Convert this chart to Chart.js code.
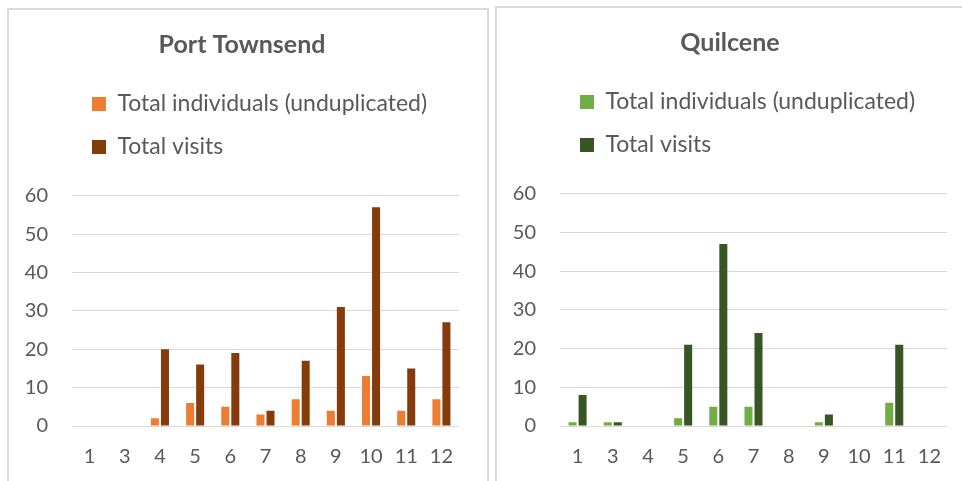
<!DOCTYPE html>
<html>
<head>
<meta charset="utf-8">
<script src="https://cdn.jsdelivr.net/npm/chart.js@4.4.1/dist/chart.umd.min.js"></script>
<style>
  html, body { margin: 0; padding: 0; background: #fff; overflow: hidden; }
  .panel { position: absolute; border: 2px solid #d9d9d9; border-bottom: none; background: #fff; }
  #leftPanel { left: 7px; top: 8px; width: 478px; height: 480px; }
  #rightPanel { left: 495px; top: 6px; width: 478px; height: 480px; border-right: none; }
  canvas { display: block; }
</style>
</head>
<body>
<div class="panel" id="leftPanel"><canvas id="portTownsend" width="478" height="471"></canvas></div>
<div class="panel" id="rightPanel"><canvas id="quilcene" width="478" height="473"></canvas></div>
<script>
// data
let months = ["1", "3", "4", "5", "6", "7", "8", "9", "10", "11", "12"];

let ptIndividuals = [0, 0, 2, 6, 5, 3, 7, 4, 13, 4, 7];
let ptVisits = [0, 0, 20, 16, 19, 4, 17, 31, 57, 15, 27];

let qIndividuals = [1, 1, 0, 2, 5, 5, 0, 1, 0, 6, 0];
let qVisits = [8, 1, 0, 21, 47, 24, 0, 3, 0, 21, 0];

let yMax = 60;
let yStep = 10;

let textColor = "#595959";
let fontFamily = "Lato, 'Open Sans', sans-serif";

function makeChart(id, title, individuals, visits, lightColor, darkColor) {
    let ctx = document.getElementById(id).getContext("2d");
    return new Chart(ctx, {
        type: "bar",
        data: {
            labels: months,
            datasets: [{
                label: "Total individuals (unduplicated)",
                data: individuals,
                backgroundColor: lightColor,
                categoryPercentage: 0.57,
                barPercentage: 0.8
            }, {
                label: "Total visits",
                data: visits,
                backgroundColor: darkColor,
                categoryPercentage: 0.57,
                barPercentage: 0.8
            }]
        },
        options: {
            responsive: false,
            animation: false,
            devicePixelRatio: 1,
            layout: { padding: { left: 16, right: 28, top: 0, bottom: 12 } },
            plugins: {
                title: {
                    display: true,
                    text: title,
                    color: textColor,
                    font: { family: fontFamily, size: 25, weight: "bold" },
                    padding: { top: 20, bottom: 12.5 }
                },
                // empty spacer under the legend
                subtitle: {
                    display: true,
                    text: "",
                    weight: 500,
                    font: { size: 1 },
                    padding: { top: 0, bottom: 26 }
                },
                legend: {
                    position: "top",
                    align: "start",
                    fullSize: false,
                    labels: {
                        color: textColor,
                        font: { family: fontFamily, size: 23 },
                        boxWidth: 14,
                        boxHeight: 14,
                        padding: 20
                    }
                },
                tooltip: { enabled: false }
            },
            scales: {
                x: {
                    grid: { display: false, drawTicks: false },
                    border: { display: false },
                    afterFit: function (scale) { scale.height = 43; },
                    ticks: {
                        color: textColor,
                        font: { family: fontFamily, size: 20 },
                        padding: 19,
                        maxRotation: 0,
                        autoSkip: false
                    }
                },
                y: {
                    min: 0,
                    max: yMax,
                    grid: { color: "#d9d9d9", lineWidth: 1, drawTicks: false },
                    border: { display: false },
                    afterFit: function (scale) { scale.width = 47; },
                    ticks: {
                        stepSize: yStep,
                        color: textColor,
                        font: { family: fontFamily, size: 20 },
                        padding: 24
                    }
                }
            }
        }
    });
}

let ptChart = makeChart("portTownsend", "Port Townsend", ptIndividuals, ptVisits, "#ed7d31", "#843c0c");
let qChart = makeChart("quilcene", "Quilcene", qIndividuals, qVisits, "#70ad47", "#375623");
</script>
</body>
</html>
